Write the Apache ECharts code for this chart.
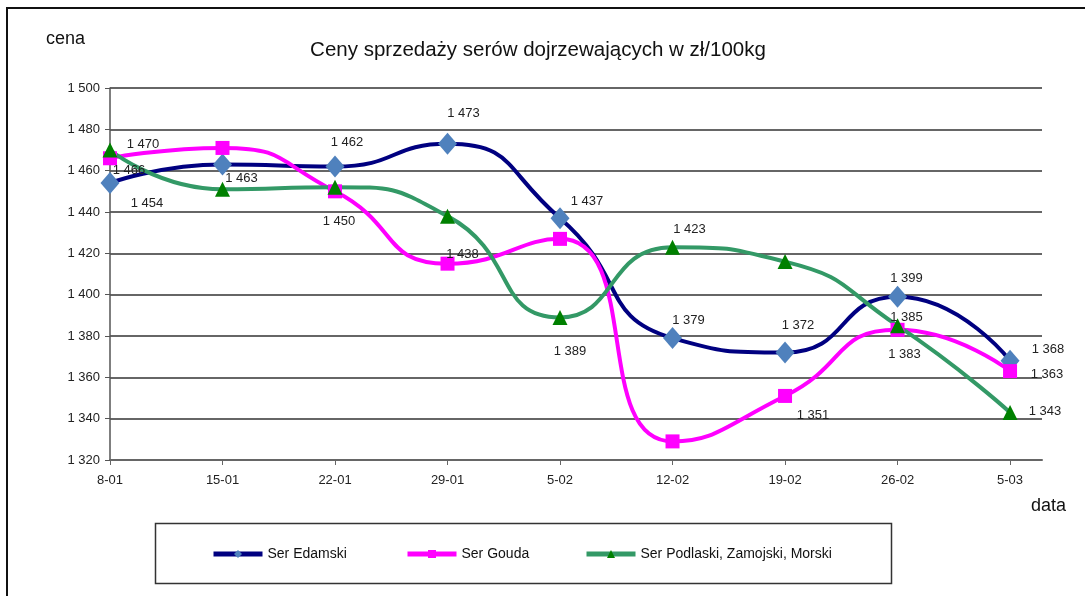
<!DOCTYPE html>
<html>
<head>
<meta charset="utf-8">
<script src="https://cdn.jsdelivr.net/npm/echarts@6/dist/echarts.min.js"></script>
<style>
  html, body { margin: 0; padding: 0; background: #fff; }
  #main { width: 1085px; height: 596px; }
</style>
</head>
<body>
<div id="main"></div>
<script>
// daty notowań
var dates = ['8-01', '15-01', '22-01', '29-01', '5-02', '12-02', '19-02', '26-02', '5-03'];
// ceny w zł/100kg
var edamski = [1454, 1463, 1462, 1473, 1437, 1379, 1372, 1399, 1368];
var gouda = [1466, 1471, 1450, 1415, 1427, 1329, 1351, 1383, 1363];
var podlaski = [1470, 1451, 1452, 1438, 1389, 1423, 1416, 1385, 1343];
var yTicks = [1320, 1340, 1360, 1380, 1400, 1420, 1440, 1460, 1480, 1500];

// przesunięcia etykiet (null = brak etykiety)
var edamskiLbl = [[37, 20], [19, 14], [12, -24], [16, -30], [27, -17], [16, -18], [13, -27], [9, -18], [38, -11]];
var goudaLbl = [[19, 12], null, [4, 30], null, null, null, [28, 19], [7, 25], [37, 3]];
var podlaskiLbl = [[33, -6], null, null, [15, 38], [10, 34], [17, -18], null, [9, -8], [35, -1]];

function fmt(v) {
  var s = String(Math.round(v));
  return s.replace(/\B(?=(\d{3})+(?!\d))/g, ' ');
}

function build(vals, lbl) {
  return vals.map(function (v, i) {
    var o = lbl[i];
    return {
      value: [i, v],
      label: o ? { show: true, position: 'inside', offset: o } : { show: false }
    };
  });
}

var font = 'Liberation Sans, Arial, sans-serif';
var myChart = echarts.init(document.getElementById('main'));

var labelStyle = {
  color: '#222',
  fontSize: 13,
  fontFamily: font,
  textBorderWidth: 0,
  formatter: function (p) { return fmt(p.value[1]); }
};

myChart.setOption({
  animation: false,
  backgroundColor: '#fff',
  title: {
    text: 'Ceny sprzedaży serów dojrzewających w zł/100kg',
    left: 533,
    textAlign: 'center',
    top: 35,
    textStyle: { fontFamily: font, fontSize: 20.5, fontWeight: 'normal', color: '#111' }
  },
  graphic: [
    { type: 'polyline', shape: { points: [[7, 600], [7, 8], [1090, 8]] },
      style: { stroke: '#111', lineWidth: 2, fill: null } },
    { type: 'rect', shape: { x: 155.5, y: 523.5, width: 736, height: 60 },
      style: { stroke: '#333', lineWidth: 1.5, fill: '#fff' }, z: -1 },
    { type: 'text', left: 46, top: 30,
      style: { text: 'cena', font: '18px ' + font, fill: '#111' } },
    { type: 'text', left: 1031, top: 497,
      style: { text: 'data', font: '18px ' + font, fill: '#111' } }
  ],
  legend: [
    { data: ['Ser Edamski'], left: 211, top: 547 },
    { data: ['Ser Gouda'], left: 405, top: 547 },
    { data: ['Ser Podlaski, Zamojski, Morski'], left: 584, top: 547 }
  ].map(function (l) {
    l.padding = 0;
    l.itemWidth = 49;
    l.itemHeight = 10;
    l.itemGap = 0;
    l.lineStyle = { width: 5 };
    l.textStyle = { fontFamily: font, fontSize: 14, color: '#111' };
    return l;
  }),
  grid: { left: 110, right: 43, top: 88, bottom: 136, containLabel: false },
  xAxis: {
    type: 'value',
    min: 0,
    max: 8.284,
    interval: 1,
    axisLine: { show: true, lineStyle: { color: '#666', width: 2 } },
    axisTick: { show: true, length: 5, customValues: dates.map(function (d, i) { return i; }),
      lineStyle: { color: '#666' } },
    axisLabel: {
      customValues: dates.map(function (d, i) { return i; }),
      formatter: function (v) { return dates[Math.round(v)]; },
      margin: 14, color: '#222', fontSize: 13, fontFamily: font
    },
    splitLine: { show: false }
  },
  yAxis: {
    type: 'value',
    min: yTicks[0],
    max: yTicks[yTicks.length - 1],
    interval: 20,
    axisLine: { show: true, lineStyle: { color: '#555', width: 1.5 } },
    axisTick: { show: true, length: 5, lineStyle: { color: '#555' } },
    axisLabel: { formatter: fmt, margin: 10, color: '#222', fontSize: 13, fontFamily: font },
    splitLine: { show: true, lineStyle: { color: '#333', width: 1.5 } }
  },
  series: [
    {
      name: 'Ser Edamski',
      type: 'line',
      smooth: 0.55,
      symbol: 'diamond',
      symbolSize: [19, 22],
      lineStyle: { color: '#000080', width: 4 },
      itemStyle: { color: '#4F81BD' },
      label: labelStyle,
      data: build(edamski, edamskiLbl)
    },
    {
      name: 'Ser Gouda',
      type: 'line',
      smooth: 0.55,
      symbol: 'rect',
      symbolSize: 14,
      lineStyle: { color: '#FF00FF', width: 4 },
      itemStyle: { color: '#FF00FF' },
      label: labelStyle,
      data: build(gouda, goudaLbl)
    },
    {
      name: 'Ser Podlaski, Zamojski, Morski',
      type: 'line',
      smooth: 0.55,
      symbol: 'triangle',
      symbolSize: 15,
      lineStyle: { color: '#339966', width: 4 },
      itemStyle: { color: '#008000' },
      label: labelStyle,
      data: build(podlaski, podlaskiLbl)
    }
  ]
});
</script>
</body>
</html>
